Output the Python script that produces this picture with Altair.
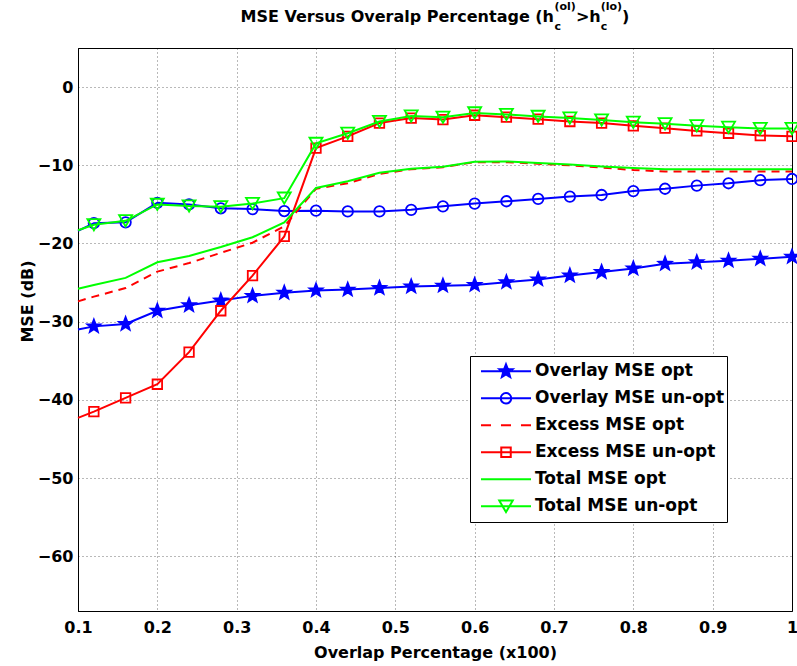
import math
import altair as alt
import pandas as pd

# ---------------- data ----------------
overlap = [0.10, 0.12, 0.16, 0.20, 0.24, 0.28, 0.32, 0.36, 0.40, 0.44, 0.48, 0.52,
           0.56, 0.60, 0.64, 0.68, 0.72, 0.76, 0.80, 0.84, 0.88, 0.92, 0.96, 1.00]
overlay_opt = [-31.0, -30.6, -30.3, -28.6, -27.9, -27.3, -26.7, -26.3, -26.0, -25.9, -25.7, -25.5,
               -25.4, -25.3, -24.95, -24.6, -24.1, -23.65, -23.2, -22.6, -22.4, -22.2, -21.95, -21.7]
overlay_unopt = [-18.4, -17.4, -17.3, -14.8, -15.0, -15.5, -15.6, -15.85, -15.8, -15.9, -15.9, -15.7,
                 -15.25, -14.9, -14.6, -14.3, -14.0, -13.8, -13.3, -13.0, -12.6, -12.3, -11.9, -11.75]
excess_opt = [-27.4, -26.8, -25.7, -23.6, -22.5, -21.2, -19.9, -17.8, -13.0, -12.3, -11.1, -10.5,
              -10.25, -9.6, -9.6, -9.8, -10.0, -10.3, -10.6, -10.8, -10.8, -10.8, -10.8, -10.8]
excess_unopt = [-42.3, -41.5, -39.75, -38.0, -33.9, -28.6, -24.1, -19.1, -7.8, -6.3, -4.6, -3.96,
                -4.15, -3.6, -3.85, -4.1, -4.4, -4.6, -4.95, -5.25, -5.6, -5.9, -6.2, -6.3]
total_opt = [-25.8, -25.3, -24.4, -22.4, -21.6, -20.45, -19.2, -17.3, -12.9, -12.05, -10.95, -10.45,
             -10.2, -9.55, -9.5, -9.7, -9.9, -10.15, -10.35, -10.5, -10.5, -10.5, -10.5, -10.5]
total_unopt = [-18.3, -17.6, -17.1, -15.0, -15.2, -15.3, -14.9, -14.2, -7.2, -5.9, -4.4, -3.7,
               -3.85, -3.3, -3.5, -3.75, -3.96, -4.2, -4.5, -4.7, -4.95, -5.15, -5.3, -5.3]

series_names = ["Overlay MSE opt", "Overlay MSE un-opt", "Excess MSE opt",
                "Excess MSE un-opt", "Total MSE opt", "Total MSE un-opt"]
series_values = [overlay_opt, overlay_unopt, excess_opt, excess_unopt, total_opt, total_unopt]

x_ticks = [0.1, 0.2, 0.3, 0.4, 0.5, 0.6, 0.7, 0.8, 0.9, 1.0]
y_ticks = [-60, -50, -40, -30, -20, -10, 0]
x_title = "Overlap Percentage (x100)"
y_title = "MSE (dB)"
title_parts = ["MSE Versus Overalp Percentage (h", "(ol)", "c", ">h", "(lo)", "c", ")"]

# ---------------- styles ----------------
FONT = "DejaVu Sans"
BLUE, RED, GREEN = "#0000ff", "#ff0000", "#00ff00"
W, H = 714, 563


def star_path(R, r, prefix=""):
    pts = []
    for k in range(10):
        ang = -math.pi / 2 + k * math.pi / 5
        rad = R if k % 2 == 0 else r
        pts.append((rad * math.cos(ang), rad * math.sin(ang)))
    return prefix + "M" + "L".join(f"{a:.3f},{b:.3f}" for a, b in pts) + "Z"


LINE = "M-1,0L1,0"
chart_star = star_path(1.0, 0.42)
styles = [
    dict(color=BLUE, dash=None, shape=chart_star, size=190, filled=True),
    dict(color=BLUE, dash=None, shape="circle", size=110, filled=False),
    dict(color=RED, dash=[8, 6], shape=None, size=0, filled=False),
    dict(color=RED, dash=None, shape="square", size=90, filled=False),
    dict(color=GREEN, dash=None, shape=None, size=0, filled=False),
    dict(color=GREEN, dash=None, shape="triangle-down", size=170, filled=False),
]
legend_paths = [
    star_path(0.28, 0.12, LINE),
    LINE + "M0.21,0A0.21,0.21,0,1,1,-0.21,0A0.21,0.21,0,1,1,0.21,0Z",
    "M-1,0L-0.6,0M-0.2,0L0.2,0M0.6,0L1,0",
    LINE + "M-0.19,-0.19L0.19,-0.19L0.19,0.19L-0.19,0.19Z",
    LINE,
    LINE + "M-0.27,-0.23L0.27,-0.23L0,0.23Z",
]
legend_fills = [BLUE, "transparent", "transparent", "transparent", "transparent", "transparent"]
legend_strokes = [BLUE, BLUE, RED, RED, GREEN, GREEN]

rows = []
for name, vals in zip(series_names, series_values):
    for xv, yv in zip(overlap, vals):
        rows.append({"x": xv, "y": yv, "series": name})
df = pd.DataFrame(rows)

X = alt.X("x:Q",
          scale=alt.Scale(domain=[0.1, 1.0], nice=False, zero=False),
          axis=alt.Axis(values=x_ticks, format=".1~f", title=x_title,
                        labelFlush=False, labelOverlap=False, labelPadding=8,
                        titleX=W / 2, titleY=46, titleBaseline="alphabetic",
                        titleAlign="center"))
Y = alt.Y("y:Q",
          scale=alt.Scale(domain=[-67, 5], nice=False, zero=False),
          axis=alt.Axis(values=y_ticks, format="d", title=y_title,
                        labelFlush=False, labelOverlap=False, labelPadding=5,
                        titleAngle=270, titleX=-46, titleY=253,
                        titleBaseline="alphabetic", titleAlign="center"))

layers = []
for name, st in zip(series_names, styles):
    base = alt.Chart(df).transform_filter(alt.datum.series == name)
    line_kw = dict(color=st["color"], strokeWidth=2)
    if st["dash"]:
        line_kw["strokeDash"] = st["dash"]
    layers.append(base.mark_line(**line_kw).encode(x=X, y=Y, order="x:Q"))
    if st["shape"]:
        pt_kw = dict(shape=st["shape"], size=st["size"], filled=st["filled"],
                     opacity=1, strokeWidth=1.8, stroke=st["color"])
        if st["filled"]:
            pt_kw["fill"] = st["color"]
        else:
            pt_kw["color"] = st["color"]
        layers.append(base.transform_filter(alt.datum.x >= 0.11)
                      .mark_point(**pt_kw).encode(x=X, y=Y))

LEG = alt.Legend(title=None, orient="none", legendX=392, legendY=308,
                 symbolSize=2500, symbolStrokeWidth=2, symbolOffset=8,
                 labelOffset=3, labelFont=FONT, labelFontSize=17,
                 labelFontWeight="bold", labelColor="black", labelLimit=400,
                 padding=2, strokeColor="black", fillColor="white",
                 clipHeight=26.7, rowPadding=0)
legend_df = pd.DataFrame({"series": series_names})
legend_layer = (alt.Chart(legend_df).transform_filter("false")
                .mark_point(filled=True, opacity=1, strokeWidth=2)
                .encode(stroke=alt.Stroke("series:N", scale=alt.Scale(domain=series_names, range=legend_strokes), legend=LEG),
                        fill=alt.Fill("series:N", scale=alt.Scale(domain=series_names, range=legend_fills), legend=LEG),
                        shape=alt.Shape("series:N", scale=alt.Scale(domain=series_names, range=legend_paths), legend=LEG)))
layers.append(legend_layer)

# title built from pieces (sub/superscripts)
one = pd.DataFrame({"k": [0]})
title_pos = [(162.5, -26, 16), (476.5, -38, 11), (476.5, -18, 11), (497.9, -26, 16),
             (522.7, -38, 11), (522.7, -18, 11), (544.1, -26, 16)]
for part, (px, py, fs) in zip(title_parts, title_pos):
    layers.append(alt.Chart(one).mark_text(text=part, font=FONT, fontSize=fs, fontWeight="bold",
                                           color="black", align="left", baseline="alphabetic")
                  .encode(x=alt.value(px), y=alt.value(py)))

chart = (alt.layer(*layers)
         .properties(width=W, height=H, background="white",
                     autosize=alt.AutoSizeParams(type="none"),
                     padding={"left": 78, "top": 48, "right": 5, "bottom": 55})
         .configure_view(stroke="black", strokeWidth=1)
         .configure_axis(grid=True, gridColor="#000000", gridOpacity=0.55, gridDash=[1, 3],
                         gridWidth=1, ticks=False, domainColor="black", domainWidth=1,
                         labelFont=FONT, labelFontSize=16, labelFontWeight="bold",
                         labelColor="black", titleFont=FONT, titleFontSize=16,
                         titleFontWeight="bold", titleColor="black"))

chart.save("out.html", embed_options={"renderer": "svg", "actions": False})
